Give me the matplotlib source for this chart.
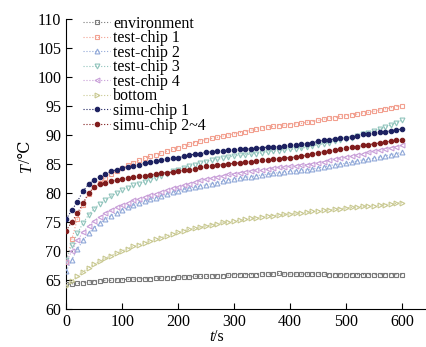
import numpy as np
import matplotlib
matplotlib.use("Agg")
import matplotlib.pyplot as plt

t = list(range(0, 601, 10))

environment = [64.2, 64.3, 64.4, 64.5, 64.6, 64.7, 64.8, 64.9, 64.9, 65.0,
               65.0, 65.1, 65.1, 65.2, 65.2, 65.2, 65.3, 65.3, 65.4, 65.4,
               65.5, 65.5, 65.5, 65.6, 65.6, 65.6, 65.7, 65.7, 65.7, 65.8,
               65.9, 65.9, 65.9, 65.9, 65.9, 66.0, 66.0, 66.0, 66.1, 66.0,
               66.0, 66.0, 66.0, 66.0, 66.0, 66.0, 66.0, 65.9, 65.9, 65.9,
               65.9, 65.9, 65.9, 65.9, 65.9, 65.9, 65.9, 65.9, 65.9, 65.9, 65.9]

test_chip1 = [68.0, 72.0, 75.5, 78.0, 79.8, 81.0, 81.8, 82.5, 83.2, 83.8,
              84.3, 84.8, 85.2, 85.6, 86.0, 86.3, 86.6, 86.9, 87.2, 87.5,
              87.8, 88.1, 88.4, 88.7, 89.0, 89.2, 89.4, 89.6, 89.8, 90.0,
              90.2, 90.4, 90.6, 90.8, 91.0, 91.2, 91.3, 91.5, 91.6, 91.7,
              91.8, 91.9, 92.0, 92.2, 92.3, 92.5, 92.7, 92.9, 93.0, 93.2,
              93.3, 93.5, 93.6, 93.8, 93.9, 94.1, 94.3, 94.5, 94.7, 94.9, 95.0]

test_chip2 = [66.5, 68.5, 70.3, 71.8, 73.0, 74.0, 74.8, 75.5, 76.1, 76.6,
              77.1, 77.5, 77.9, 78.3, 78.6, 78.9, 79.2, 79.5, 79.8, 80.1,
              80.4, 80.6, 80.8, 81.0, 81.2, 81.4, 81.6, 81.8, 82.0, 82.2,
              82.4, 82.5, 82.7, 82.8, 83.0, 83.1, 83.2, 83.4, 83.5, 83.6,
              83.7, 83.8, 83.9, 84.0, 84.1, 84.3, 84.5, 84.7, 84.9, 85.0,
              85.1, 85.3, 85.5, 85.7, 85.8, 86.0, 86.2, 86.4, 86.6, 86.8, 87.0]

test_chip3 = [68.5, 71.0, 73.0, 74.8, 76.2, 77.3, 78.1, 78.8, 79.4, 80.0,
              80.5, 80.9, 81.3, 81.6, 81.9, 82.2, 82.5, 83.0, 83.3, 83.7,
              84.0, 84.3, 84.6, 84.9, 85.2, 85.4, 85.6, 85.8, 86.0, 86.2,
              86.4, 86.5, 86.6, 86.7, 86.8, 86.9, 87.1, 87.2, 87.3, 87.4,
              87.5, 87.6, 87.7, 87.9, 88.1, 88.3, 88.5, 88.7, 88.9, 89.1,
              89.3, 89.5, 89.8, 90.1, 90.4, 90.7, 91.0, 91.3, 91.7, 92.1, 92.6]

test_chip4 = [68.0, 70.0, 71.8, 73.2, 74.3, 75.2, 75.9, 76.5, 77.0, 77.5,
              77.9, 78.3, 78.7, 79.0, 79.3, 79.6, 79.9, 80.2, 80.5, 80.8,
              81.0, 81.3, 81.6, 81.9, 82.2, 82.4, 82.6, 82.8, 83.0, 83.2,
              83.3, 83.5, 83.6, 83.8, 83.9, 84.0, 84.1, 84.3, 84.4, 84.5,
              84.6, 84.7, 84.8, 84.9, 85.0, 85.2, 85.4, 85.6, 85.8, 86.0,
              86.2, 86.4, 86.6, 86.8, 87.0, 87.2, 87.4, 87.6, 87.8, 88.0, 88.2]

bottom = [64.0, 64.8, 65.6, 66.4, 67.1, 67.7, 68.2, 68.7, 69.2, 69.6,
          70.0, 70.4, 70.8, 71.1, 71.4, 71.7, 72.0, 72.3, 72.6, 72.9,
          73.2, 73.5, 73.7, 73.9, 74.1, 74.3, 74.5, 74.7, 74.9, 75.0,
          75.2, 75.3, 75.5, 75.6, 75.7, 75.9, 76.0, 76.1, 76.2, 76.3,
          76.4, 76.5, 76.6, 76.7, 76.8, 76.9, 77.0, 77.1, 77.2, 77.3,
          77.4, 77.5, 77.6, 77.7, 77.8, 77.8, 77.9, 78.0, 78.1, 78.2, 78.3]

simu_chip1 = [75.5, 77.0, 78.5, 80.3, 81.5, 82.3, 82.8, 83.3, 83.7, 84.0,
              84.3, 84.5, 84.7, 84.9, 85.1, 85.3, 85.5, 85.6, 85.8, 86.0,
              86.1, 86.3, 86.5, 86.7, 86.8, 87.0, 87.1, 87.2, 87.3, 87.4,
              87.4, 87.5, 87.6, 87.6, 87.7, 87.8, 87.9, 88.0, 88.0, 88.1,
              88.2, 88.3, 88.4, 88.5, 88.7, 88.9, 89.1, 89.2, 89.3, 89.4,
              89.5, 89.7, 89.9, 90.1, 90.2, 90.4, 90.5, 90.6, 90.7, 90.9, 91.0]

simu_chip24 = [73.5, 75.0, 76.5, 78.2, 80.0, 81.0, 81.5, 81.8, 82.0, 82.2,
               82.4, 82.6, 82.7, 82.9, 83.0, 83.1, 83.2, 83.4, 83.5, 83.6,
               83.7, 83.9, 84.0, 84.2, 84.4, 84.6, 84.7, 84.8, 84.9, 85.0,
               85.1, 85.2, 85.3, 85.4, 85.5, 85.6, 85.7, 85.8, 85.9, 86.0,
               86.1, 86.2, 86.3, 86.5, 86.7, 86.9, 87.1, 87.3, 87.4, 87.6,
               87.7, 87.9, 88.0, 88.2, 88.3, 88.5, 88.6, 88.8, 88.9, 89.1, 89.2]

labels = ["environment", "test-chip 1", "test-chip 2", "test-chip 3",
          "test-chip 4", "bottom", "simu-chip 1", "simu-chip 2~4"]
series = [environment, test_chip1, test_chip2, test_chip3,
          test_chip4, bottom, simu_chip1, simu_chip24]
colors = ["#7a7a7a", "#f2a090", "#90a8d8", "#90c4bc",
          "#c89ed8", "#c8c890", "#1c2060", "#801c1c"]
markers = ["s", "s", "^", "v", "<", ">", "o", "o"]
filled = [False, False, False, False, False, False, True, True]

plt.rcParams["font.family"] = ["Liberation Serif", "DejaVu Serif"]

fig = plt.figure(figsize=(4.27, 3.47), dpi=100)
ax = fig.add_axes([0.155, 0.11, 0.84, 0.835])

for i, (lab, y, c, m, f) in enumerate(zip(labels, series, colors, markers, filled)):
    ax.plot(t, y, linestyle=":", linewidth=0.8, color=c, marker=m,
            markersize=3.2 if f else 3.5,
            markerfacecolor=c if f else "none", markeredgecolor=c,
            markeredgewidth=0.8, label=lab, zorder=3 + i)

ax.set_xlim(0, 641)
ax.set_ylim(60, 110)
ax.set_xticks([0, 100, 200, 300, 400, 500, 600])
ax.set_yticks(list(range(60, 111, 5)))
ax.tick_params(direction="in", length=4, width=0.8, labelsize=11.5)
for s in ["top", "right"]:
    ax.spines[s].set_visible(False)

# axis labels: italic variable + upright unit
fig.text(0.5, 0.028, "t", style="italic", fontsize=11.5, ha="right", va="center")
fig.text(0.5, 0.028, "/s", fontsize=11.5, ha="left", va="center")
fig.text(0.062, 0.53, "T", style="italic", fontsize=11.5, ha="right", va="center",
         rotation=90, rotation_mode="anchor")
fig.text(0.062, 0.53, "/℃", fontsize=11.5, ha="left", va="center", rotation=90,
         family=["Liberation Serif", "DejaVu Serif", "Noto Sans CJK SC"],
         rotation_mode="anchor")

leg = ax.legend(loc="upper left", bbox_to_anchor=(0.047, 1.012), frameon=False,
                fontsize=11.5, handlelength=1.7, handletextpad=0.2,
                labelspacing=-0.09, borderaxespad=0.0, borderpad=0.0)

fig.savefig("out.png", dpi=100)
